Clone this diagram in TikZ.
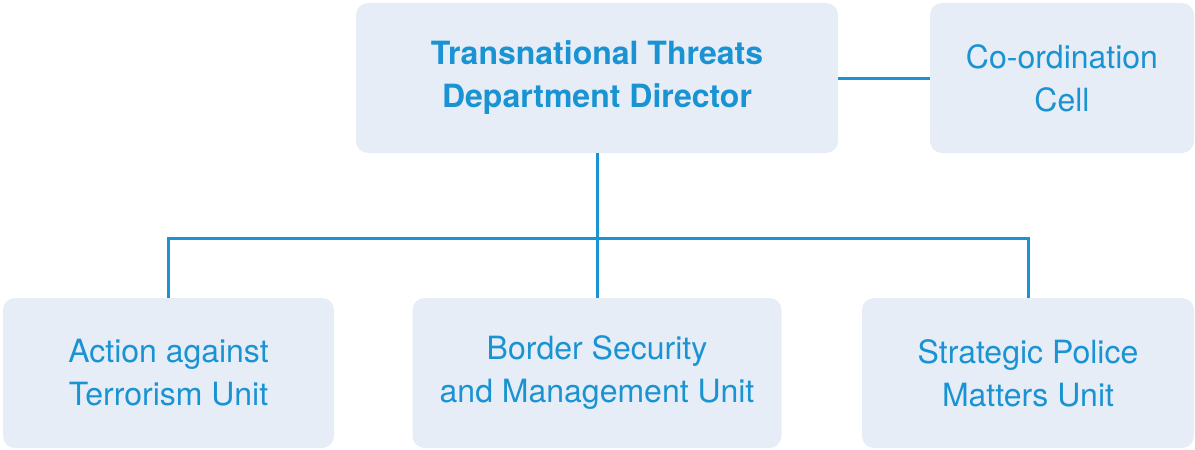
\documentclass[tikz,border=0pt]{standalone}
\usepackage{fontspec}
\setmainfont{TeX Gyre Heros}
\definecolor{ttblue}{HTML}{1A93D3}
\definecolor{ttfill}{HTML}{E6EDF7}
\begin{document}
\begin{tikzpicture}[x=1pt,y=-1pt,
	unitbox/.style={fill=ttfill,rounded corners=12pt,minimum height=150pt,text=ttblue,align=center,font=\fontsize{32}{43}\selectfont,inner sep=0pt},
	link/.style={color=ttblue,line width=3pt}]
	\useasboundingbox (0,0) rectangle (1195,450);
	\node[unitbox,minimum width=482pt,font=\bfseries\fontsize{32}{43}\selectfont] (dir) at (597,78) {Transnational Threats\\Department Director};
	\node[unitbox,minimum width=264pt] (cell) at (1062,78) {Co-ordination\\Cell};
	\node[unitbox,minimum width=331pt] (atu) at (168.5,373) {Action against\\Terrorism Unit};
	\node[unitbox,minimum width=369pt] (bsm) at (597,373) {Border Security\\and Management Unit};
	\node[unitbox,minimum width=332pt] (psu) at (1028,373) {Strategic Police\\Matters Unit};
	\coordinate (split) at (597,238); % point de partage
	\draw[link] (dir.east) -- (cell.west);
	\draw[link] (dir.south) -- (split);
	\draw[link] (split) -| (atu.north);
	\draw[link] (split) -| (psu.north);
	\draw[link] (split) -- (bsm.north);
\end{tikzpicture}
\end{document}
